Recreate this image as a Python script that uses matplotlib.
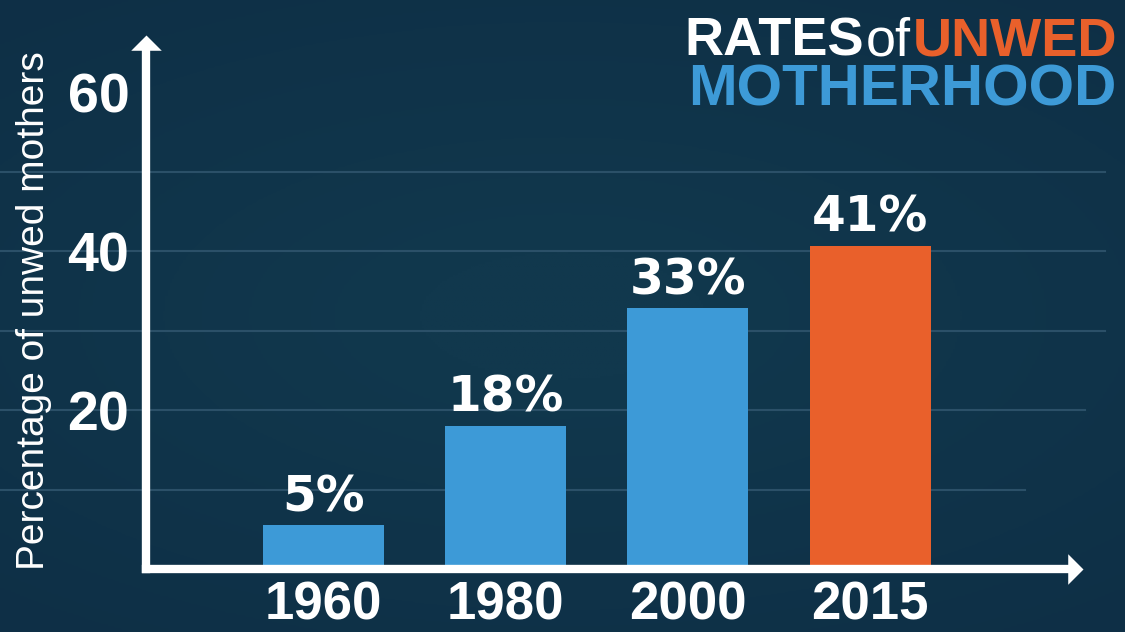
import matplotlib.pyplot as plt
import numpy as np
from matplotlib.transforms import blended_transform_factory
from matplotlib.colors import LinearSegmentedColormap

# data
years = ['1960', '1980', '2000', '2015']
rates = [5.5, 18.0, 32.8, 40.7]
rate_labels = ['5%', '18%', '33%', '41%']
bar_colors = ['#3d9ad7', '#3d9ad7', '#3d9ad7', '#e9602b']
ytick_values = [20, 40, 60]
grid_levels = [10, 20, 30, 40, 50]
grid_ends = [1025, 1085, 1105, 1105, 1105]   # right end of each faint rule, px

BG_CENTER = '#11384d'
BG_EDGE = '#0e2f46'
ORANGE = '#e9602b'
BLUE = '#3d9ad7'

fig = plt.figure(figsize=(11.25, 6.32), dpi=100)

# background with a soft vignette
bg = fig.add_axes([0, 0, 1, 1], zorder=-5)
yy, xx = np.mgrid[-1:1:300j, -1:1:500j]
rr = np.sqrt((xx * 0.8) ** 2 + (yy * 1.0) ** 2)
cmap = LinearSegmentedColormap.from_list('bg', [BG_CENTER, BG_EDGE])
bg.imshow(rr, cmap=cmap, aspect='auto', extent=[0, 1, 0, 1], vmin=0.2, vmax=1.3)
bg.axis('off')

W, H = 1125.0, 632.0
ax = fig.add_axes([146 / W, 63 / H, (1083 - 146) / W, (569 - 35) / H])
ax.set_facecolor('none')
x = np.arange(len(years))
ax.set_xlim(-0.974, 4.169)
ax.set_ylim(0, 67.2)

# faint horizontal rules running across the whole picture
trans = blended_transform_factory(fig.transFigure, ax.transData)
for g, e in zip(grid_levels, grid_ends):
    ax.plot([0, e / W], [g, g], color='#2b5068', lw=1.5, transform=trans,
            clip_on=False, zorder=0)

ax.bar(x, rates, width=0.664, color=bar_colors, zorder=2)

for xi, r, lab in zip(x, rates, rate_labels):
    ax.annotate(lab, (xi, r), xytext=(0, 3), textcoords='offset points',
                ha='center', va='bottom', color='white', fontsize=35,
                fontweight='bold', family='DejaVu Sans', zorder=3)

for s in ax.spines.values():
    s.set_visible(False)

# axis arrows
lw = 6
ax.plot([0, 0], [0, 0.975], transform=ax.transAxes, color='white', lw=lw,
        solid_capstyle='projecting', clip_on=False, zorder=4)
ax.plot([0, 0.985], [0, 0], transform=ax.transAxes, color='white', lw=lw,
        solid_capstyle='projecting', clip_on=False, zorder=4)
ax.plot([0], [1], transform=ax.transAxes, marker=[(-1, -1), (1, -1), (0, 0)],
        ms=22, color='white', clip_on=False, zorder=4, mew=0)
ax.plot([1], [0], transform=ax.transAxes, marker=[(-1, -1), (-1, 1), (0, 0)],
        ms=22, color='white', clip_on=False, zorder=4, mew=0)

ax.set_yticks(ytick_values)
ax.set_yticklabels([str(v) for v in ytick_values])
ax.set_xticks(x)
ax.set_xticklabels(years)
ax.tick_params(length=0, colors='white')
ax.tick_params(axis='y', pad=12)
ax.tick_params(axis='x', pad=8)
for t in ax.get_yticklabels():
    t.set_fontsize(40)
for t in ax.get_xticklabels():
    t.set_fontsize(38)
for t in ax.get_yticklabels() + ax.get_xticklabels():
    t.set_fontweight('bold')
    t.set_family('Liberation Sans')
    t.set_color('white')

fig.text(34 / W, 1 - 311 / H, 'Percentage of unwed mothers', rotation=90,
         ha='center', va='center', color='white', fontsize=28,
         family='Liberation Sans')

# title, right aligned, built from pieces
renderer = fig.canvas.get_renderer()
y1 = 1 - 56 / H
y2 = 1 - 106 / H
right = 1117 / W
t = fig.text(right, y1, 'UNWED', ha='right', va='baseline', color=ORANGE,
             fontsize=39, fontweight='bold', family='Liberation Sans')
bb = t.get_window_extent(renderer)
t = fig.text(bb.x0 / W - 2 / W, y1, 'of', ha='right', va='baseline',
             color='white', fontsize=39, family='Liberation Sans')
bb = t.get_window_extent(renderer)
fig.text(bb.x0 / W - 2 / W, y1, 'RATES', ha='right', va='baseline',
         color='white', fontsize=39, fontweight='bold', family='Liberation Sans')
fig.text(right, y2, 'MOTHERHOOD', ha='right', va='baseline', color=BLUE,
         fontsize=42, fontweight='bold', family='Liberation Sans')

fig.savefig('out.png', dpi=100, facecolor=BG_EDGE)
